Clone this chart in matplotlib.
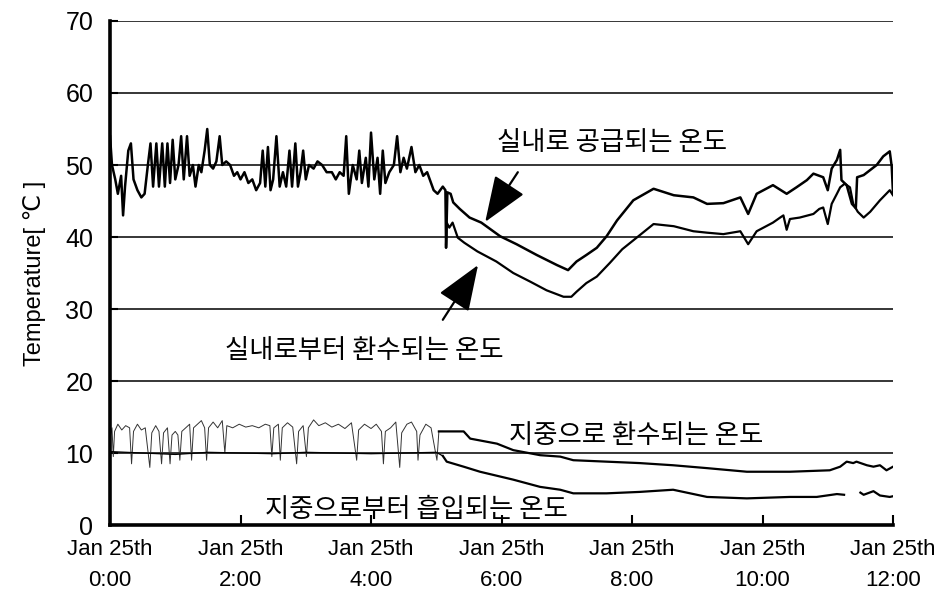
import numpy as np
import matplotlib
matplotlib.use('Agg')
import matplotlib.pyplot as plt

plt.rcParams['font.family'] = ['Liberation Sans', 'DejaVu Sans']
KR = ['Noto Sans CJK KR', 'DejaVu Sans']

# hours after Jan 25th 0:00, temperatures in degC
sup_t = [0.00, 0.03, 0.08, 0.12, 0.17, 0.20, 0.23, 0.28, 0.32, 0.36, 0.42, 0.48, 0.53, 0.58,
         0.62, 0.66, 0.71, 0.75, 0.80, 0.84, 0.88, 0.92, 0.96, 1.00, 1.05, 1.09, 1.13, 1.18,
         1.22, 1.27, 1.31, 1.36, 1.40, 1.45, 1.49, 1.53, 1.58, 1.63, 1.68, 1.72, 1.78, 1.84,
         1.90, 1.95, 2.00, 2.06, 2.12, 2.18, 2.24, 2.30, 2.34, 2.38, 2.42, 2.46, 2.50, 2.55,
         2.60, 2.65, 2.70, 2.75, 2.79, 2.84, 2.88, 2.92, 2.96, 3.00, 3.05, 3.12, 3.18, 3.25,
         3.32, 3.40, 3.46, 3.52, 3.58, 3.62, 3.66, 3.72, 3.78, 3.82, 3.86, 3.92, 3.96, 4.00,
         4.05, 4.10, 4.14, 4.18, 4.22, 4.28, 4.35, 4.40, 4.45, 4.50, 4.55, 4.62, 4.68, 4.74,
         4.80, 4.86, 4.90, 4.96, 5.02, 5.10, 5.14, 5.15, 5.17, 5.22, 5.26, 5.36, 5.51, 5.69,
         5.98, 6.23, 6.54, 6.85, 7.02, 7.15, 7.30, 7.46, 7.61, 7.77, 8.02, 8.33, 8.64, 8.94,
         9.15, 9.40, 9.66, 9.78, 9.91, 10.16, 10.37, 10.52, 10.68, 10.78, 10.93, 11.00, 11.06,
         11.14, 11.19, 11.21, 11.29, 11.37, 11.43, 11.45, 11.55, 11.65, 11.75, 11.85, 11.95,
         11.98, 12.00]
sup_v = [54.0, 50.0, 48.0, 46.0, 48.5, 43.0, 47.0, 52.0, 53.0, 48.0, 46.5, 45.5, 46.0, 50.0,
         53.0, 47.0, 53.0, 47.0, 53.0, 47.0, 53.0, 47.5, 53.5, 48.0, 50.0, 54.0, 48.0, 54.0,
         48.5, 50.0, 47.0, 50.0, 49.0, 52.0, 55.0, 50.0, 49.5, 50.5, 54.0, 50.0, 50.5, 50.0,
         48.5, 49.0, 48.0, 49.0, 47.5, 48.0, 46.5, 47.5, 52.0, 47.0, 52.5, 46.5, 48.0, 54.0,
         47.0, 49.0, 47.0, 52.0, 47.0, 53.0, 47.0, 49.0, 52.0, 48.0, 50.0, 49.5, 50.5, 50.0,
         49.0, 49.0, 48.0, 49.0, 48.5, 54.0, 46.0, 50.0, 48.0, 52.0, 47.5, 51.0, 47.0, 54.5,
         48.0, 51.0, 46.0, 52.0, 47.5, 49.0, 50.0, 54.0, 49.0, 51.0, 49.5, 52.5, 49.0, 50.0,
         48.5, 49.0, 48.0, 46.5, 46.0, 47.0, 46.5, 38.5, 46.2, 46.0, 44.8, 43.9, 42.7, 42.0,
         40.1, 39.0, 37.5, 36.1, 35.4, 36.6, 37.5, 38.5, 40.1, 42.3, 45.1, 46.7, 45.8, 45.5,
         44.6, 44.7, 45.5, 43.2, 46.0, 47.2, 46.0, 46.9, 47.9, 48.8, 48.3, 46.5, 49.5,
         50.7, 52.1, 47.9, 47.2, 44.6, 44.0, 48.3, 48.6, 49.3, 50.0, 51.2, 51.9,
         49.8, 46.0]

ret_t = [5.15, 5.16, 5.20, 5.25, 5.33, 5.43, 5.63, 5.92, 6.18, 6.44, 6.69, 6.95, 7.07, 7.15,
         7.30, 7.46, 7.66, 7.85, 8.07, 8.33, 8.64, 8.94, 9.15, 9.40, 9.66, 9.78, 9.91, 10.16,
         10.27, 10.32, 10.37, 10.42, 10.57, 10.78, 10.87, 10.93, 11.00, 11.06, 11.14, 11.19,
         11.26, 11.34, 11.39, 11.46, 11.55, 11.65, 11.80, 11.95, 12.00]
ret_v = [39.0, 42.0, 41.3, 42.0, 39.9, 39.2, 38.0, 36.6, 35.0, 33.8, 32.6, 31.7, 31.7, 32.4,
         33.6, 34.5, 36.4, 38.3, 39.9, 41.8, 41.5, 40.8, 40.6, 40.4, 40.8, 39.0, 40.8, 42.0,
         42.7, 43.0, 41.0, 42.5, 42.7, 43.2, 43.9, 44.1, 41.8, 44.6, 46.0, 46.9,
         47.4, 46.9, 44.6, 43.5, 42.7, 43.5, 45.1, 46.5, 45.8]

gret_t = [0.00, 0.03, 0.05, 0.07, 0.12, 0.18, 0.24, 0.30, 0.33, 0.36, 0.42, 0.48, 0.54, 0.61,
          0.64, 0.70, 0.75, 0.79, 0.82, 0.88, 0.92, 0.95, 1.00, 1.04, 1.07, 1.10, 1.16, 1.22,
          1.25, 1.28, 1.34, 1.40, 1.45, 1.48, 1.51, 1.58, 1.65, 1.72, 1.76, 1.79, 1.88, 1.98,
          2.08, 2.18, 2.28, 2.38, 2.45, 2.48, 2.51, 2.58, 2.61, 2.64, 2.72, 2.80, 2.86, 2.89,
          2.96, 3.01, 3.04, 3.12, 3.20, 3.30, 3.40, 3.50, 3.60, 3.70, 3.78, 3.81, 3.90, 4.00,
          4.08, 4.16, 4.19, 4.22, 4.30, 4.38, 4.44, 4.47, 4.55, 4.62, 4.70, 4.72, 4.75, 4.84,
          4.92, 5.01, 5.04, 5.10, 5.16, 5.42, 5.52, 5.93, 6.18, 6.59, 6.90, 7.10, 7.61, 8.12,
          8.63, 9.15, 9.76, 10.42, 11.03, 11.19, 11.29, 11.39, 11.44, 11.60, 11.70, 11.80,
          11.90, 12.00]
gret_v = [12.0, 13.5, 9.5, 13.0, 14.0, 13.2, 13.8, 13.5, 8.5, 13.0, 14.0, 13.2, 13.5, 8.0,
          12.8, 13.8, 13.0, 8.5, 12.8, 13.5, 8.5, 12.5, 13.0, 12.5, 9.0, 13.0, 13.5, 14.0,
          9.0, 13.5, 14.0, 14.5, 13.5, 9.0, 13.5, 14.3, 13.5, 14.5, 10.0, 13.8, 13.5, 14.0,
          13.6, 13.8, 13.5, 14.0, 13.8, 9.5, 13.5, 14.0, 9.0, 13.5, 14.2, 13.6, 8.5, 13.0,
          13.8, 9.5, 13.5, 14.6, 13.8, 14.2, 13.6, 14.0, 13.4, 14.2, 9.0, 13.2, 14.0, 13.4,
          14.0, 13.0, 8.5, 13.0, 13.5, 14.3, 8.0, 12.8, 14.0, 14.3, 13.0, 9.0, 12.5, 14.0,
          13.5, 9.0, 13.0, 13.0, 13.0, 13.0, 12.0, 11.3, 10.4, 9.7, 9.5, 9.0, 8.8, 8.6,
          8.3, 7.9, 7.4, 7.4, 7.6, 8.1, 8.8, 8.6, 8.8, 8.3, 8.1, 8.3,
          7.6, 8.1]

gsup_t = [0.0, 0.5, 1.0, 1.5, 2.0, 2.5, 3.0, 3.5, 4.0, 4.5, 5.0, 5.10, 5.16, 5.42, 5.67,
          6.18, 6.59, 6.90, 7.10, 7.61, 8.12, 8.63, 9.15, 9.76, 10.42, 10.83, 11.14, 11.25,
          11.35, 11.50, 11.55, 11.70, 11.80, 11.95, 12.00]
gsup_v = [10.2, 10.0, 9.8, 10.1, 10.0, 9.9, 10.1, 10.0, 9.9, 10.0, 10.1, 9.6, 8.8, 8.1, 7.4,
          6.3, 5.3, 4.9, 4.4, 4.4, 4.6, 4.9, 3.9, 3.7, 3.9, 3.9, 4.3, 4.2,
          np.nan, 4.5, 4.2, 4.7, 4.1, 3.9, 4.0]

hour_ticks = [0, 2, 4, 6, 8, 10, 12]
hour_labels = ['Jan 25th\n0:00', 'Jan 25th\n2:00', 'Jan 25th\n4:00', 'Jan 25th\n6:00',
               'Jan 25th\n8:00', 'Jan 25th\n10:00', 'Jan 25th\n12:00']

fig = plt.figure(figsize=(9.42, 6.05), dpi=100)
ax = fig.add_axes([0.1168, 0.1322, 0.8312, 0.8331])

ax.set_xlim(0, 12)
ax.set_ylim(0, 70)
ax.set_yticks(range(0, 71, 10))
ax.set_xticks(hour_ticks)
ax.set_xticklabels(hour_labels, fontsize=16, linespacing=1.65)
ax.tick_params(axis='y', direction='in', length=6, width=1.5, labelsize=18, pad=12)
ax.tick_params(axis='x', direction='in', length=7, width=1.5, pad=10)
ax.yaxis.grid(True, color='black', lw=1.1)
ax.set_axisbelow(True)
for s in ['top', 'right']:
    ax.spines[s].set_visible(False)
for s in ['left', 'bottom']:
    ax.spines[s].set_linewidth(2.6)
ax.set_ylabel('Temperature[ ℃ ]', fontsize=17, labelpad=14)

ax.plot(sup_t, sup_v, color='black', lw=1.8)
ax.plot(ret_t, ret_v, color='black', lw=1.6)

gt = np.array(gret_t)
gv = np.array(gret_v)
early = gt <= 5.1
ax.plot(gt[early], gv[early], color='#333333', lw=0.7)
ax.plot(gt[gt >= 5.04], gv[gt >= 5.04], color='black', lw=1.6)

st = np.array(gsup_t)
sv = np.array(gsup_v)
ax.plot(st[st <= 5.1], sv[st <= 5.1], color='black', lw=0.9)
ax.plot(st[st >= 5.1], sv[st >= 5.1], color='black', lw=1.6)

arrow = dict(arrowstyle='-|>,head_length=1.3,head_width=0.5', mutation_scale=22,
             color='black', lw=1.6, shrinkA=0, shrinkB=0)
ax.annotate('', xy=(5.75, 42.1), xytext=(6.25, 49.0), arrowprops=arrow)
ax.annotate('', xy=(5.64, 36.1), xytext=(5.10, 28.5), arrowprops=arrow)

kr_style = dict(family=KR, fontsize=19, fontweight='medium', ha='center', va='center')
ax.text(7.7, 53.1, '실내로 공급되는 온도', **kr_style)
ax.text(3.9, 24.3, '실내로부터 환수되는 온도', **kr_style)
ax.text(8.06, 12.5, '지중으로 환수되는 온도', **kr_style)
ax.text(4.7, 2.1, '지중으로부터 흡입되는 온도', **kr_style)

plt.savefig('out.png', dpi=100)
